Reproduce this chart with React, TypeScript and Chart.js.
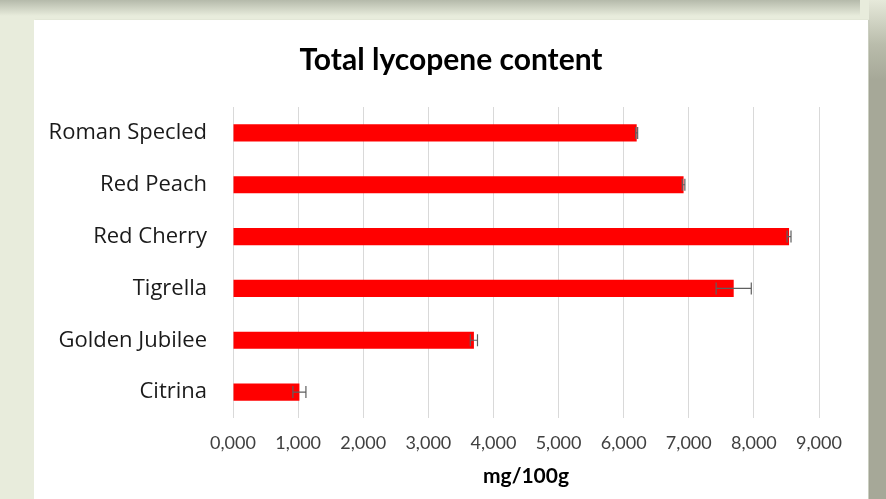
import React, { useEffect, useRef } from "react";
import { Chart, registerables } from "chart.js";

Chart.register(...registerables);

const categories = ["Roman Specled", "Red Peach", "Red Cherry", "Tigrella", "Golden Jubilee", "Citrina"];
const values = [6.2, 6.92, 8.54, 7.69, 3.7, 1.02];
const errors = [0.015, 0.02, 0.03, 0.27, 0.055, 0.1];
const titleText = "Total lycopene content";
const axisTitle = "mg/100g";
const xMin = 0;
const xMax = 9;
const xStep = 1;

const FONT = "Lato, 'Open Sans', sans-serif";
const LABEL_FONT = "'Open Sans', Lato, sans-serif";

const errorBarPlugin = {
  id: "errorBars",
  afterDatasetsDraw(chart: any) {
    const ctx = chart.ctx;
    const meta = chart.getDatasetMeta(0);
    const xs = chart.scales.x;
    ctx.save();
    ctx.strokeStyle = "#5f5f5f";
    ctx.lineWidth = 1.2;
    meta.data.forEach((bar: any, i: number) => {
      const v = values[i];
      const e = errors[i];
      const x1 = xs.getPixelForValue(v - e);
      const x2 = xs.getPixelForValue(v + e);
      const y = bar.y;
      const cap = 6;
      ctx.beginPath();
      ctx.moveTo(x1, y);
      ctx.lineTo(x2, y);
      ctx.moveTo(x1, y - cap);
      ctx.lineTo(x1, y + cap);
      ctx.moveTo(x2, y - cap);
      ctx.lineTo(x2, y + cap);
      ctx.stroke();
    });
    ctx.restore();
  },
};

function LycopeneChart() {
  const ref = useRef<HTMLCanvasElement | null>(null);
  useEffect(() => {
    if (!ref.current) return;
    const chart = new Chart(ref.current, {
      type: "bar",
      data: {
        labels: categories,
        datasets: [
          {
            data: values,
            backgroundColor: "#ff0000",
            borderWidth: 0,
            barPercentage: 0.33,
            categoryPercentage: 1,
          },
        ],
      },
      options: {
        indexAxis: "y",
        animation: false,
        responsive: false,
        layout: { padding: 0 },
        plugins: {
          legend: { display: false },
          tooltip: { enabled: false },
          title: {
            display: true,
            text: titleText,
            color: "#000000",
            font: { family: FONT, size: 30, weight: "bold" },
            padding: { top: 22, bottom: 29 },
          },
        },
        scales: {
          x: {
            min: xMin,
            max: xMax,
            ticks: {
              stepSize: xStep,
              color: "#404040",
              font: { family: FONT, size: 18 },
              padding: 14,
              callback: (v: any) => Number(v).toFixed(3).replace(".", ","),
            },
            grid: { color: "#d9d9d9", lineWidth: 1, drawTicks: false },
            border: { display: false },
            title: {
              display: true,
              text: axisTitle,
              color: "#000000",
              font: { family: FONT, size: 21, weight: "bold" },
              padding: { top: 6, bottom: 10 },
            },
            afterFit: (s: any) => {
              s.height = 81;
            },
          },
          y: {
            ticks: {
              color: "#1a1a1a",
              font: { family: LABEL_FONT, size: 22 },
              padding: 26,
            },
            grid: { display: false, drawTicks: false },
            border: { display: false },
            afterFit: (s: any) => {
              s.width = 199;
            },
          },
          spacer: {
            type: "linear",
            position: "right",
            display: true,
            ticks: { display: false },
            grid: { display: false, drawTicks: false },
            border: { display: false },
            afterFit: (s: any) => {
              s.width = 49;
            },
          },
        },
      },
      plugins: [errorBarPlugin],
    } as any);
    return () => chart.destroy();
  }, []);
  return <canvas ref={ref} width={834} height={479} style={{ display: "block", width: 834, height: 479 }} />;
}

export default function App() {
  useEffect(() => {
    document.body.style.margin = "0";
  }, []);
  return (
    <div style={{ position: "relative", width: 886, height: 499, overflow: "hidden", background: "#e8ecdc" }}>
      <div
        style={{
          position: "absolute",
          left: 0,
          top: 0,
          width: 860,
          height: 16,
          background: "linear-gradient(to bottom, rgba(175,180,165,0.9), rgba(232,236,220,0))",
        }}
      />
      <div
        style={{
          position: "absolute",
          left: 869,
          top: 0,
          width: 17,
          height: 499,
          background: "linear-gradient(to bottom, #e6e9da 0px, #b9bcab 45px, #a6a898 80px, #a6a898 499px)",
        }}
      />
      <div
        style={{
          position: "absolute",
          left: 34,
          top: 20,
          width: 834,
          height: 479,
          background: "#ffffff",
          boxShadow: "1px 0 1px rgba(0,0,0,0.12)",
        }}
      >
        <LycopeneChart />
      </div>
    </div>
  );
}
